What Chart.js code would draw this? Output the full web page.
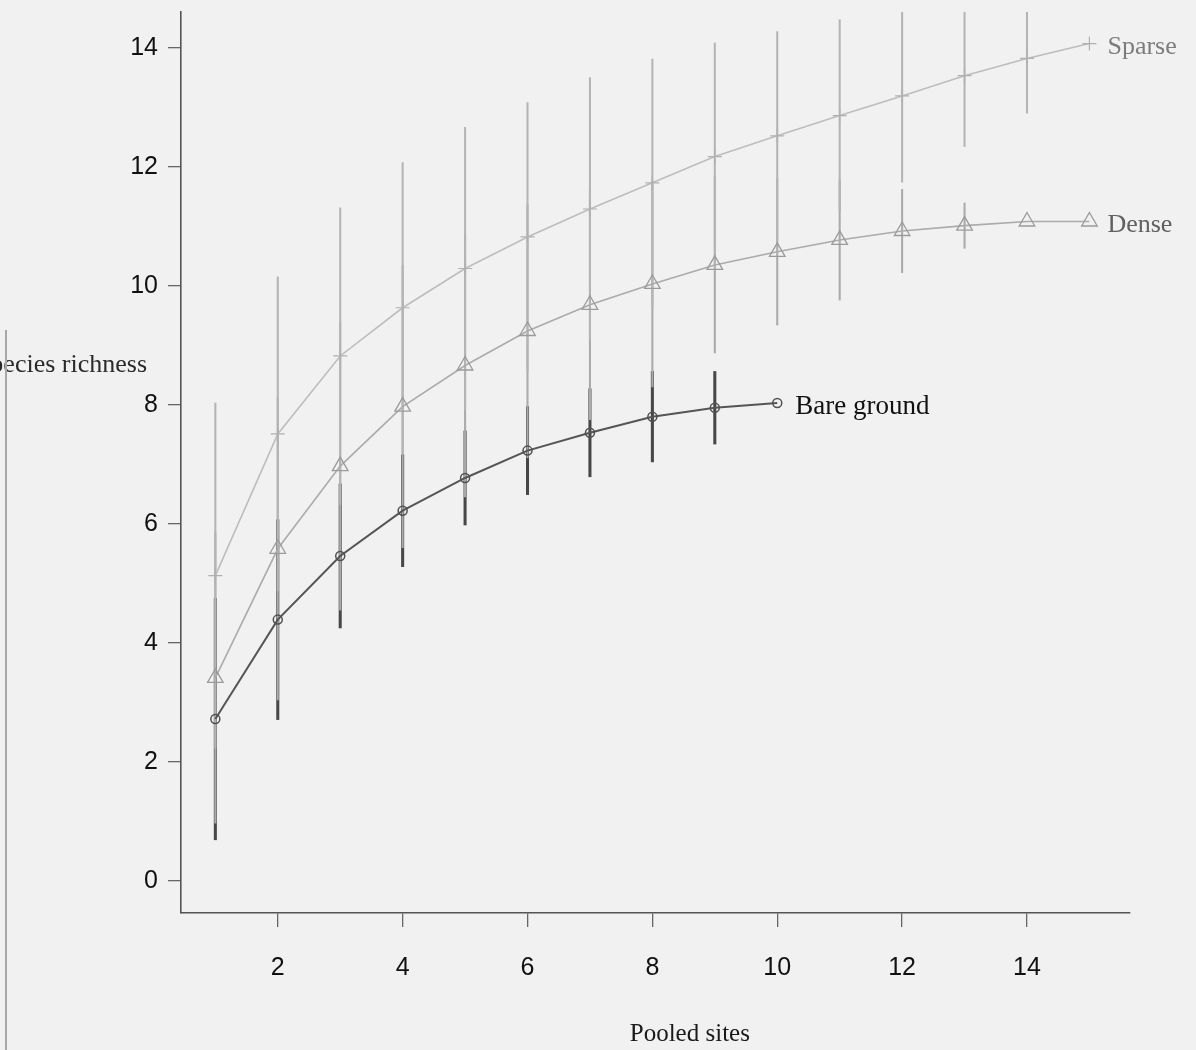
<!DOCTYPE html>
<html>
<head>
<meta charset="utf-8">
<script src="https://cdn.jsdelivr.net/npm/chart.js@4.4.1/dist/chart.umd.min.js"></script>
<style>
html, body { margin: 0; padding: 0; background: #f1f1f1; }
#wrap { position: relative; width: 1196px; height: 1050px; overflow: hidden; }
#edge { position: absolute; left: 5px; top: 330px; width: 2px; height: 720px; background: #a8a8a8; }
</style>
</head>
<body>
<div id="wrap">
  <canvas id="c" width="1196" height="1050"></canvas>
  <div id="edge"></div>
</div>
<script>
// pooled sites (x) and mean richness +/- sd for each habitat
const sites = [1, 2, 3, 4, 5, 6, 7, 8, 9, 10, 11, 12, 13, 14, 15];
const sparseMean = [5.13, 7.51, 8.82, 9.63, 10.29, 10.82, 11.29, 11.73, 12.17, 12.52, 12.86, 13.19, 13.53, 13.82, 14.07];
const sparseSd   = [2.90, 2.64, 2.49, 2.44, 2.37, 2.26, 2.21, 2.08, 1.91, 1.75, 1.61, 1.45, 1.19, 0.92, 0];
const denseMean  = [3.41, 5.58, 6.97, 7.97, 8.66, 9.24, 9.68, 10.03, 10.35, 10.57, 10.77, 10.92, 11.01, 11.08, 11.08];
const denseSd    = [2.44, 2.54, 2.42, 2.37, 2.21, 2.13, 1.93, 1.73, 1.48, 1.23, 1.01, 0.70, 0.38, 0, 0];
const bareSites  = [1, 2, 3, 4, 5, 6, 7, 8, 9, 10];
const bareMean   = [2.72, 4.39, 5.46, 6.22, 6.77, 7.23, 7.53, 7.80, 7.95, 8.03];
const bareSd     = [2.03, 1.68, 1.21, 0.94, 0.79, 0.74, 0.74, 0.76, 0.61, 0];

const xTicks = [2, 4, 6, 8, 10, 12, 14];
const yTicks = [0, 2, 4, 6, 8, 10, 12, 14];
const seriesNames = ['Sparse', 'Dense', 'Bare ground'];

function pts(xs, m) { return xs.map((x, i) => ({ x: x, y: m[i] })); }
function bars(xs, m, sd) {
  const out = [];
  xs.forEach((x, i) => { if (sd[i] > 0) out.push({ x: x, y: [m[i] - sd[i], m[i] + sd[i]] }); });
  return out;
}

// line labels at the end of each curve + axis titles
const labelPlugin = {
  id: 'labels',
  afterDatasetsDraw(chart) {
    const ctx = chart.ctx;
    const cols = ['#7c7c7c', '#606060', '#111111'];
    const sizes = [26, 26, 27];
    ctx.save();
    ctx.textBaseline = 'middle';
    ctx.textAlign = 'left';
    [2, 1, 0].forEach((di, k) => {
      const meta = chart.getDatasetMeta(di);
      const last = meta.data[meta.data.length - 1];
      ctx.font = sizes[k] + 'px "Liberation Serif", "Times New Roman", serif';
      ctx.fillStyle = cols[k];
      ctx.fillText(seriesNames[k], last.x + 18, last.y + 4);
    });
    ctx.fillStyle = '#1a1a1a';
    ctx.font = '25px "Liberation Serif", "Times New Roman", serif';
    ctx.textAlign = 'center';
    ctx.fillText('Pooled sites', chart.scales.x.getPixelForValue(8.6), 1034);
    ctx.textAlign = 'right';
    ctx.font = '26px "Liberation Serif", "Times New Roman", serif';
    ctx.fillStyle = '#2a2a2a';
    ctx.fillText('Species richness', 147, 365);
    ctx.restore();
  }
};

new Chart(document.getElementById('c'), {
  data: {
    datasets: [
      { type: 'line', data: pts(bareSites, bareMean), borderColor: '#555555', borderWidth: 2,
        pointStyle: 'circle', pointRadius: 4.5, pointBorderWidth: 1.5, pointBorderColor: '#505050',
        pointBackgroundColor: 'rgba(0,0,0,0)', tension: 0 },
      { type: 'line', data: pts(sites, denseMean), borderColor: '#ababab', borderWidth: 1.6,
        pointStyle: 'triangle', pointRadius: 9, pointBorderWidth: 1.3, pointBorderColor: '#9a9a9a',
        pointBackgroundColor: 'rgba(0,0,0,0)', tension: 0 },
      { type: 'line', data: pts(sites, sparseMean), borderColor: '#bdbdbd', borderWidth: 1.6,
        pointStyle: 'cross', pointRadius: 7, pointBorderWidth: 1.2, pointBorderColor: '#b0b0b0',
        pointBackgroundColor: 'rgba(0,0,0,0)', tension: 0 },
      { type: 'bar', data: bars(sites, sparseMean, sparseSd), backgroundColor: '#b4b4b4',
        barThickness: 1.4, grouped: false, borderWidth: 0 },
      { type: 'bar', data: bars(sites, denseMean, denseSd), backgroundColor: '#aaaaaa',
        barThickness: 1.4, grouped: false, borderWidth: 0 },
      { type: 'bar', data: bars(bareSites, bareMean, bareSd), backgroundColor: '#474747',
        barThickness: 2.4, grouped: false, borderWidth: 0 }
    ]
  },
  options: {
    responsive: false,
    devicePixelRatio: 1,
    animation: false,
    layout: { padding: { top: 12, right: 66, left: 0, bottom: 0 } },
    plugins: { legend: { display: false }, tooltip: { enabled: false } },
    scales: {
      x: {
        type: 'linear', min: 0.45, max: 15.65, offset: false,
        afterFit: s => { s.height = 137; s.paddingLeft = 0; s.paddingRight = 0; },
        afterBuildTicks: s => { s.ticks = xTicks.map(v => ({ value: v })); },
        grid: { display: true, drawOnChartArea: false, drawTicks: true, tickLength: 14,
                color: '#666', lineWidth: 1.3, offset: false },
        border: { display: true, color: '#555', width: 1.6 },
        ticks: { color: '#111', padding: 26, maxRotation: 0,
                 font: { family: '"Liberation Sans", Arial, sans-serif', size: 25 } }
      },
      y: {
        type: 'linear', min: -0.54, max: 14.6,
        afterFit: s => { s.width = 181; s.paddingTop = 0; s.paddingBottom = 0; },
        afterBuildTicks: s => { s.ticks = yTicks.map(v => ({ value: v })); },
        grid: { display: true, drawOnChartArea: false, drawTicks: true, tickLength: 13,
                color: '#666', lineWidth: 1.3 },
        border: { display: true, color: '#555', width: 1.6 },
        ticks: { color: '#111', padding: 10,
                 font: { family: '"Liberation Sans", Arial, sans-serif', size: 25 } }
      }
    }
  },
  plugins: [labelPlugin]
});
</script>
</body>
</html>
